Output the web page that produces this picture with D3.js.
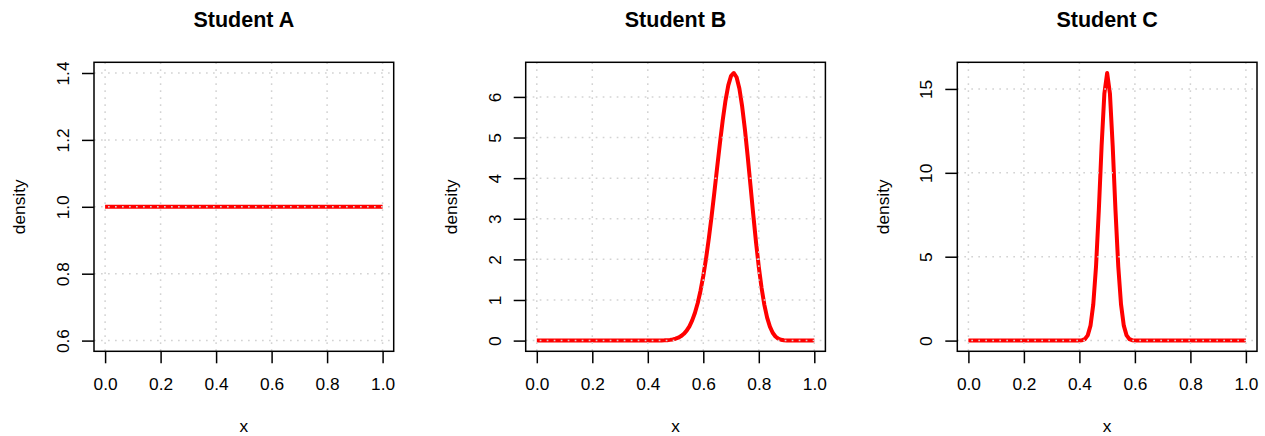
<!DOCTYPE html>
<html>
<head>
<meta charset="utf-8">
<script src="https://cdn.jsdelivr.net/npm/d3@7"></script>
<style>
  html, body { margin: 0; padding: 0; background: #ffffff; }
  svg { display: block; font-family: "Liberation Sans", Arial, Helvetica, sans-serif; }
</style>
</head>
<body>
<svg id="chart" width="1265" height="436"></svg>
<script>
// ---- data ----
const panelTitles = ["Student A", "Student B", "Student C"];
const xTickValues = [0, 0.2, 0.4, 0.6, 0.8, 1.0];
const xLim = [0, 1];

// Student A: uniform density
const xA = [0, 1];
const densA = [1, 1];
const yLimA = [0.6, 1.4];
const yTicksA = [0.6, 0.8, 1.0, 1.2, 1.4];

// Student B: peaked near 0.71
const xB = [0, 0.40, 0.41, 0.42, 0.43, 0.44, 0.45, 0.46, 0.47, 0.48, 0.49,
  0.50, 0.51, 0.52, 0.53, 0.54, 0.55, 0.56, 0.57, 0.58, 0.59,
  0.60, 0.61, 0.62, 0.63, 0.64, 0.65, 0.66, 0.67, 0.68, 0.69,
  0.70, 0.71, 0.72, 0.73, 0.74, 0.75, 0.76, 0.77, 0.78, 0.79,
  0.80, 0.81, 0.82, 0.83, 0.84, 0.85, 0.86, 0.87, 0.88, 0.89,
  0.90, 0.91, 0.92, 1.0];
const densB = [0, 0.0001, 0.0003, 0.0005, 0.001, 0.002, 0.0035, 0.006, 0.010, 0.018, 0.029,
  0.046, 0.072, 0.111, 0.167, 0.245, 0.352, 0.497, 0.686, 0.927, 1.228,
  1.593, 2.024, 2.519, 3.068, 3.658, 4.267, 4.867, 5.427, 5.911, 6.285,
  6.519, 6.589, 6.485, 6.206, 5.767, 5.198, 4.535, 3.821, 3.104, 2.423,
  1.813, 1.295, 0.880, 0.566, 0.342, 0.193, 0.101, 0.048, 0.021, 0.008,
  0.003, 0.001, 0.0002, 0];
const yTicksB = [0, 1, 2, 3, 4, 5, 6];

// Student C: sharply peaked at 0.5
const xC = [0, 0.38, 0.39, 0.40, 0.41, 0.42, 0.43, 0.44, 0.45, 0.46, 0.47, 0.48, 0.49,
  0.50, 0.51, 0.52, 0.53, 0.54, 0.55, 0.56, 0.57, 0.58, 0.59, 0.60, 0.61, 0.62, 1.0];
const densC = [0, 0.0001, 0.0008, 0.0047, 0.0227, 0.0915, 0.310, 0.890, 2.159, 4.445, 7.78, 11.60, 14.73,
  15.95, 14.73, 11.60, 7.78, 4.445, 2.159, 0.890, 0.310, 0.0915, 0.0227, 0.0047, 0.0008, 0.0001, 0];
const yTicksC = [0, 5, 10, 15];

// ---- layout ----
const boxLefts = [94, 525.7, 957.3];
const boxW = 299.7;
const boxTop = 62.3, boxBottom = 351.3;
const labelFont = 17.3, titleFont = 21.5;

const panels = [
  { title: panelTitles[0], xs: xA, ys: densA, ylim: yLimA, yticks: yTicksA, fmt: d3.format(".1f") },
  { title: panelTitles[1], xs: xB, ys: densB, ylim: d3.extent(densB), yticks: yTicksB, fmt: d3.format("d") },
  { title: panelTitles[2], xs: xC, ys: densC, ylim: d3.extent(densC), yticks: yTicksC, fmt: d3.format("d") }
];

const svg = d3.select("#chart");

function padded(lim) {
  const p = (lim[1] - lim[0]) * 0.04;
  return [lim[0] - p, lim[1] + p];
}

panels.forEach((p, i) => {
  const left = boxLefts[i], right = left + boxW;
  const x = d3.scaleLinear().domain(padded(xLim)).range([left, right]);
  const y = d3.scaleLinear().domain(padded(p.ylim)).range([boxBottom, boxTop]);
  const g = svg.append("g");

  // curve
  const line = d3.line().x((d, k) => x(p.xs[k])).y(d => y(d));
  g.append("path")
    .datum(p.ys)
    .attr("d", line)
    .attr("fill", "none")
    .attr("stroke", "#ff0000")
    .attr("stroke-width", 4)
    .attr("stroke-linejoin", "round")
    .attr("stroke-linecap", "butt");

  // grid (drawn on top, like R's grid())
  const grid = g.append("g")
    .attr("stroke", "#d3d3d3")
    .attr("stroke-width", 1.5)
    .attr("stroke-dasharray", "1.7 5.3");
  grid.selectAll("line.v").data(xTickValues).join("line")
    .attr("x1", d => x(d)).attr("x2", d => x(d))
    .attr("y1", boxTop).attr("y2", boxBottom);
  grid.selectAll("line.h").data(p.yticks).join("line")
    .attr("x1", left).attr("x2", right)
    .attr("y1", d => y(d)).attr("y2", d => y(d));

  // x axis
  const xAxis = g.append("g")
    .attr("transform", `translate(0,${boxBottom})`)
    .call(d3.axisBottom(x).tickValues(xTickValues).tickFormat(d3.format(".1f"))
      .tickSize(12).tickPadding(14.7));
  xAxis.select(".domain").remove();
  xAxis.selectAll(".tick line").attr("stroke", "#000").attr("stroke-width", 1.5);
  xAxis.selectAll(".tick text")
    .attr("fill", "#000")
    .style("font-size", labelFont + "px")
    .style("font-family", '"Liberation Sans", Arial, sans-serif');

  // y axis
  const yAxis = g.append("g")
    .attr("transform", `translate(${left},0)`)
    .call(d3.axisLeft(y).tickValues(p.yticks).tickFormat(p.fmt).tickSize(12));
  yAxis.select(".domain").remove();
  yAxis.selectAll(".tick line").attr("stroke", "#000").attr("stroke-width", 1.5);
  yAxis.selectAll(".tick text")
    .attr("fill", "#000")
    .attr("x", 0).attr("y", -25).attr("dy", null)
    .attr("text-anchor", "middle")
    .attr("transform", "rotate(-90)")
    .style("font-size", labelFont + "px")
    .style("font-family", '"Liberation Sans", Arial, sans-serif');

  // box
  g.append("rect")
    .attr("x", left).attr("y", boxTop)
    .attr("width", boxW).attr("height", boxBottom - boxTop)
    .attr("fill", "none").attr("stroke", "#000").attr("stroke-width", 1.5);

  // title
  g.append("text")
    .attr("x", (left + right) / 2).attr("y", 27.3)
    .attr("text-anchor", "middle")
    .attr("font-weight", "bold")
    .style("font-size", titleFont + "px")
    .text(p.title);

  // axis titles
  g.append("text")
    .attr("x", (left + right) / 2).attr("y", 432.3)
    .attr("text-anchor", "middle")
    .style("font-size", labelFont + "px")
    .text("x");
  g.append("text")
    .attr("transform", `translate(${left - 68.7},${(boxTop + boxBottom) / 2}) rotate(-90)`)
    .attr("text-anchor", "middle")
    .style("font-size", labelFont + "px")
    .text("density");
});
</script>
</body>
</html>
